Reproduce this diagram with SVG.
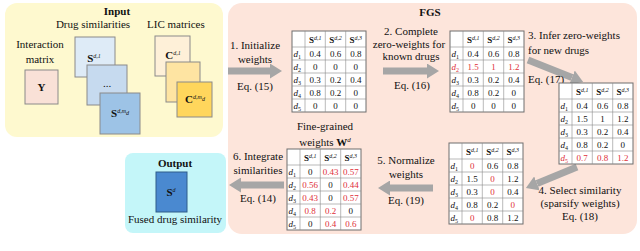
<svg xmlns="http://www.w3.org/2000/svg" width="640" height="251" viewBox="0 0 640 251" font-family="Liberation Serif, DejaVu Serif, serif">
<style>
text{font-family:'Liberation Serif','DejaVu Serif',serif;fill:#111}
.l{font-size:11px;text-anchor:middle}
.ls{font-size:11px}
.ti{font-size:11px;font-weight:bold;text-anchor:middle}
.n{font-size:9px;text-anchor:middle}
.h{font-size:9px;text-anchor:middle}
.b{font-weight:bold}
.sp{font-size:6px;font-style:italic}
.lb{font-size:9px;font-style:italic}
.sb{font-size:6px;font-style:normal}
.rd{fill:#e0303a}
.sq{stroke:#8a8a8a;stroke-width:1}
.ar{stroke:#a6a6a6;stroke-width:7;fill:none}
.gl{stroke:#8c8c8c;stroke-width:0.6}
</style>
<defs>
<marker id="ah" markerUnits="userSpaceOnUse" markerWidth="12" markerHeight="15" viewBox="0 0 12 15" refX="0" refY="7.5" orient="auto">
<path d="M0,0 L12,7.5 L0,15 z" fill="#a6a6a6"/>
</marker>
<g id="grid">
<rect x="0" y="0" width="74" height="81" fill="#fff" stroke="#6e6e6e" stroke-width="1"/>
<path class="gl" d="M13,0V81M33.3,0V81M53.7,0V81M0,16H74M0,29H74M0,42H74M0,55H74M0,68H74"/>
</g>
<g id="hdr">
<text class="h" x="23.2" y="12"><tspan class="b">S</tspan><tspan class="sp" dy="-3.5">d,1</tspan></text>
<text class="h" x="43.5" y="12"><tspan class="b">S</tspan><tspan class="sp" dy="-3.5">d,2</tspan></text>
<text class="h" x="63.8" y="12"><tspan class="b">S</tspan><tspan class="sp" dy="-3.5">d,3</tspan></text>
</g>
<g id="rows">
<text class="lb" x="1.5" y="25.5">d<tspan class="sb" dy="2">1</tspan></text>
<text class="lb" x="1.5" y="38.5">d<tspan class="sb" dy="2">2</tspan></text>
<text class="lb" x="1.5" y="51.5">d<tspan class="sb" dy="2">3</tspan></text>
<text class="lb" x="1.5" y="64.5">d<tspan class="sb" dy="2">4</tspan></text>
<text class="lb" x="1.5" y="77.5">d<tspan class="sb" dy="2">5</tspan></text>
</g>
<g id="rows4">
<text class="lb" x="1.5" y="25.5">d<tspan class="sb" dy="2">1</tspan></text>
<text class="lb" x="1.5" y="38.5">d<tspan class="sb" dy="2">2</tspan></text>
<text class="lb" x="1.5" y="51.5">d<tspan class="sb" dy="2">3</tspan></text>
<text class="lb" x="1.5" y="64.5">d<tspan class="sb" dy="2">4</tspan></text>
</g>
</defs>

<!-- containers -->
<rect id="input-box" x="5" y="3" width="218" height="134" rx="12" fill="#fef9cf"/>
<rect id="fgs-box" x="228" y="3" width="409" height="231" rx="14" fill="#fde5db"/>
<rect id="output-box" x="125" y="153" width="101" height="80" rx="8" fill="#c4f6f9"/>

<g id="input">
<text class="ti" x="117" y="15">Input</text>
<text class="l" x="93" y="28">Drug similarities</text>
<text class="ls" x="147" y="28">LIC matrices</text>
<text class="l" x="40" y="48">Interaction</text>
<text class="l" x="40" y="63">matrix</text>
<g id="node-Y">
<rect class="sq" x="25" y="70" width="33" height="34" fill="#f9e1d7"/>
<text class="l b" x="41.5" y="91">Y</text>
</g>
<g id="node-S1">
<rect class="sq" x="75" y="37" width="40" height="40" fill="#deebf7" stroke="#7b90a8"/>
<text class="l" x="94" y="62"><tspan class="b">S</tspan><tspan class="sp" dy="-4">d,1</tspan></text>
</g>
<g id="node-S2">
<rect class="sq" x="87" y="65" width="40" height="40" fill="#c6daef" stroke="#7b90a8"/>
<text class="l" x="107" y="87">...</text>
</g>
<g id="node-S3">
<rect class="sq" x="100" y="93" width="40" height="41" fill="#9dc3e6" stroke="#6c83a0"/>
<text class="l" x="120" y="117"><tspan class="b">S</tspan><tspan class="sp" dy="-4">d,m</tspan><tspan class="sp" font-size="4.5" dy="1.5">d</tspan></text>
</g>
<g id="node-C1">
<rect class="sq" x="155" y="36" width="35" height="40" fill="#fef0d8"/>
<text class="l" x="173" y="59"><tspan class="b">C</tspan><tspan class="sp" dy="-4">d,1</tspan></text>
</g>
<g id="node-C2">
<rect class="sq" x="166" y="62" width="34" height="40" fill="#fee4a2"/>
</g>
<g id="node-C3">
<rect class="sq" x="177" y="82" width="35" height="35" fill="#ffd65c"/>
<text class="l" x="195" y="103"><tspan class="b">C</tspan><tspan class="sp" dy="-4">d,m</tspan><tspan class="sp" font-size="4.5" dy="1.5">d</tspan></text>
</g>
</g>

<text class="ti" x="430" y="16">FGS</text>

<g id="connectors">
<line class="ar" x1="228" y1="71" x2="270" y2="71" marker-end="url(#ah)"/>
<line class="ar" x1="383" y1="71" x2="427" y2="71" marker-end="url(#ah)"/>
<line class="ar" x1="528" y1="60" x2="572" y2="77.5" marker-end="url(#ah)"/>
<line class="ar" x1="577" y1="167" x2="537" y2="183.4" marker-end="url(#ah)"/>
<line class="ar" x1="433" y1="188" x2="390" y2="188" marker-end="url(#ah)"/>
<line class="ar" x1="284" y1="185" x2="241" y2="185" marker-end="url(#ah)"/>
</g>

<g id="labels">
<text class="l" x="255" y="49">1. Initialize</text>
<text class="l" x="255" y="63">weights</text>
<text class="l" x="255" y="90">Eq. (15)</text>
<text class="l" x="411" y="35">2. Complete</text>
<text class="l" x="409" y="48">zero-weights for</text>
<text class="l" x="411" y="60">known drugs</text>
<text class="l" x="412" y="89">Eq. (16)</text>
<text class="ls" x="528" y="39">3. Infer zero-weights</text>
<text class="ls" x="528" y="54">for new drugs</text>
<text class="ls" x="528" y="83">Eq. (17)</text>
<text class="l" x="580" y="194">4. Select similarity</text>
<text class="l" x="580" y="207">(sparsify weights)</text>
<text class="l" x="580" y="220">Eq. (18)</text>
<text class="l" x="406" y="164">5. Normalize</text>
<text class="l" x="406" y="178">weights</text>
<text class="l" x="406" y="204">Eq. (19)</text>
<text class="l" x="258" y="160">6. Integrate</text>
<text class="l" x="258" y="174">similarities</text>
<text class="l" x="258" y="202">Eq. (14)</text>
<text class="l" x="325" y="130">Fine-grained</text>
<text class="l" x="325" y="146">weights <tspan class="b">W</tspan><tspan font-size="7" font-style="italic" dy="-4">d</tspan></text>
</g>

<g id="table1" transform="translate(292,31)">
<use href="#grid"/><use href="#hdr"/><use href="#rows"/>
<text class="n" x="23.2" y="25.5">0.4</text><text class="n" x="43.5" y="25.5">0.6</text><text class="n" x="63.8" y="25.5">0.8</text>
<text class="n" x="23.2" y="38.5">0</text><text class="n" x="43.5" y="38.5">0</text><text class="n" x="63.8" y="38.5">0</text>
<text class="n" x="23.2" y="51.5">0.3</text><text class="n" x="43.5" y="51.5">0.2</text><text class="n" x="63.8" y="51.5">0.4</text>
<text class="n" x="23.2" y="64.5">0.8</text><text class="n" x="43.5" y="64.5">0.2</text><text class="n" x="63.8" y="64.5">0</text>
<text class="n" x="23.2" y="77.5">0</text><text class="n" x="43.5" y="77.5">0</text><text class="n" x="63.8" y="77.5">0</text>
</g>

<g id="table2" transform="translate(450,31)">
<use href="#grid"/><use href="#hdr"/>
<text class="lb" x="1.5" y="25.5">d<tspan class="sb" dy="2">1</tspan></text>
<text class="lb rd" x="1.5" y="38.5">d<tspan class="sb" dy="2">2</tspan></text>
<text class="lb" x="1.5" y="51.5">d<tspan class="sb" dy="2">3</tspan></text>
<text class="lb" x="1.5" y="64.5">d<tspan class="sb" dy="2">4</tspan></text>
<text class="lb" x="1.5" y="77.5">d<tspan class="sb" dy="2">5</tspan></text>
<text class="n" x="23.2" y="25.5">0.4</text><text class="n" x="43.5" y="25.5">0.6</text><text class="n" x="63.8" y="25.5">0.8</text>
<text class="n rd" x="23.2" y="38.5">1.5</text><text class="n rd" x="43.5" y="38.5">1</text><text class="n rd" x="63.8" y="38.5">1.2</text>
<text class="n" x="23.2" y="51.5">0.3</text><text class="n" x="43.5" y="51.5">0.2</text><text class="n" x="63.8" y="51.5">0.4</text>
<text class="n" x="23.2" y="64.5">0.8</text><text class="n" x="43.5" y="64.5">0.2</text><text class="n" x="63.8" y="64.5">0</text>
<text class="n" x="23.2" y="77.5">0</text><text class="n" x="43.5" y="77.5">0</text><text class="n" x="63.8" y="77.5">0</text>
</g>

<g id="table3" transform="translate(559,83)">
<use href="#grid"/><use href="#hdr"/><use href="#rows4"/>
<text class="lb rd" x="1.5" y="77.5">d<tspan class="sb" dy="2">5</tspan></text>
<text class="n" x="23.2" y="25.5">0.4</text><text class="n" x="43.5" y="25.5">0.6</text><text class="n" x="63.8" y="25.5">0.8</text>
<text class="n" x="23.2" y="38.5">1.5</text><text class="n" x="43.5" y="38.5">1</text><text class="n" x="63.8" y="38.5">1.2</text>
<text class="n" x="23.2" y="51.5">0.3</text><text class="n" x="43.5" y="51.5">0.2</text><text class="n" x="63.8" y="51.5">0.4</text>
<text class="n" x="23.2" y="64.5">0.8</text><text class="n" x="43.5" y="64.5">0.2</text><text class="n" x="63.8" y="64.5">0</text>
<text class="n rd" x="23.2" y="77.5">0.7</text><text class="n rd" x="43.5" y="77.5">0.8</text><text class="n rd" x="63.8" y="77.5">1.2</text>
</g>

<g id="table4" transform="translate(449,143)">
<use href="#grid"/><use href="#hdr"/><use href="#rows"/>
<text class="n rd" x="23.2" y="25.5">0</text><text class="n" x="43.5" y="25.5">0.6</text><text class="n" x="63.8" y="25.5">0.8</text>
<text class="n" x="23.2" y="38.5">1.5</text><text class="n rd" x="43.5" y="38.5">0</text><text class="n" x="63.8" y="38.5">1.2</text>
<text class="n" x="23.2" y="51.5">0.3</text><text class="n rd" x="43.5" y="51.5">0</text><text class="n" x="63.8" y="51.5">0.4</text>
<text class="n" x="23.2" y="64.5">0.8</text><text class="n" x="43.5" y="64.5">0.2</text><text class="n rd" x="63.8" y="64.5">0</text>
<text class="n rd" x="23.2" y="77.5">0</text><text class="n" x="43.5" y="77.5">0.8</text><text class="n" x="63.8" y="77.5">1.2</text>
</g>

<g id="table5" transform="translate(287,149)">
<use href="#grid"/><use href="#hdr"/><use href="#rows"/>
<text class="n" x="23.2" y="25.5">0</text><text class="n rd" x="43.5" y="25.5">0.43</text><text class="n rd" x="63.8" y="25.5">0.57</text>
<text class="n rd" x="23.2" y="38.5">0.56</text><text class="n" x="43.5" y="38.5">0</text><text class="n rd" x="63.8" y="38.5">0.44</text>
<text class="n rd" x="23.2" y="51.5">0.43</text><text class="n" x="43.5" y="51.5">0</text><text class="n rd" x="63.8" y="51.5">0.57</text>
<text class="n rd" x="23.2" y="64.5">0.8</text><text class="n rd" x="43.5" y="64.5">0.2</text><text class="n" x="63.8" y="64.5">0</text>
<text class="n" x="23.2" y="77.5">0</text><text class="n rd" x="43.5" y="77.5">0.4</text><text class="n rd" x="63.8" y="77.5">0.6</text>
</g>

<g id="output">
<text class="ti" x="175" y="167">Output</text>
<g id="node-Sd">
<rect x="156" y="172" width="31" height="40" fill="#4a89d0" stroke="#2e5c8a" stroke-width="1"/>
<text class="l" x="171" y="196"><tspan class="b">S</tspan><tspan class="sp" dy="-4">d</tspan></text>
</g>
<text class="l" x="175" y="223">Fused drug similarity</text>
</g>
</svg>
